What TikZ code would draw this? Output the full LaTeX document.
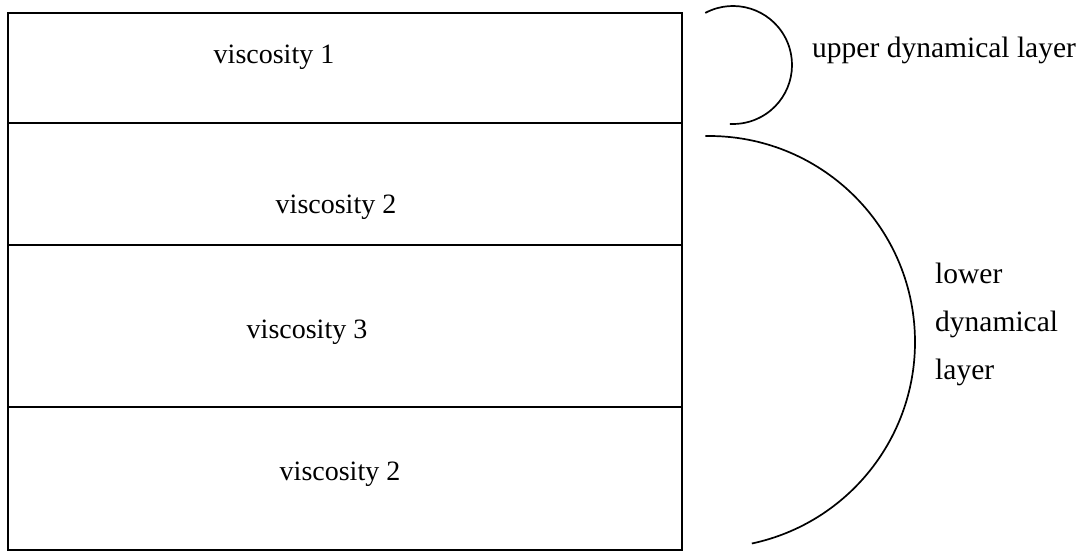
\documentclass[tikz,border=0pt]{standalone}
\usepackage{fontspec}
\setmainfont{Liberation Serif}
\usetikzlibrary{calc}
\begin{document}
\begin{tikzpicture}[x=1pt,y=-1pt,
  lbl/.style={inner sep=0pt,font=\fontsize{28}{33}\selectfont},
  rlbl/.style={inner sep=0pt,font=\fontsize{29.5}{34}\selectfont},
  ln/.style={line width=1.7pt,black}]
\useasboundingbox (0,0) rectangle (1089,554);
% layer boundaries
\coordinate (tl) at (8,13);
\coordinate (br) at (682,550);
\draw[ln] (tl) rectangle (br);
\coordinate (a1) at (8,123);  \coordinate (b1) at (682,123);
\coordinate (a2) at (8,245);  \coordinate (b2) at (682,245);
\coordinate (a3) at (8,407);  \coordinate (b3) at (682,407);
\draw[ln] (a1) -- (b1);
\draw[ln] (a2) -- (b2);
\draw[ln] (a3) -- (b3);
% labels
\node[lbl,anchor=base] (v1) at (274,63) {viscosity 1};
\node[lbl,anchor=base] (v2) at (336,213) {viscosity 2};
\node[lbl,anchor=base] (v3) at (307,338) {viscosity 3};
\node[lbl,anchor=base] (v4) at (340,480) {viscosity 2};
% braces (arcs)
\coordinate (uc) at (733,65);
\draw[ln] ($(uc)+(-118:59)$) arc[start angle=-118,end angle=93,radius=59];
\coordinate (lc) at (709,342);
\draw[ln] ($(lc)+(-91:206)$) arc[start angle=-91,end angle=78,radius=206];
\node[rlbl,anchor=base west] (up) at (812,57) {upper dynamical layer};
\node[rlbl,anchor=base west] (lo1) at (935,283) {lower};
\node[rlbl,anchor=base west] (lo2) at (935,331) {dynamical};
\node[rlbl,anchor=base west] (lo3) at (935,379) {layer};
\end{tikzpicture}
\end{document}
